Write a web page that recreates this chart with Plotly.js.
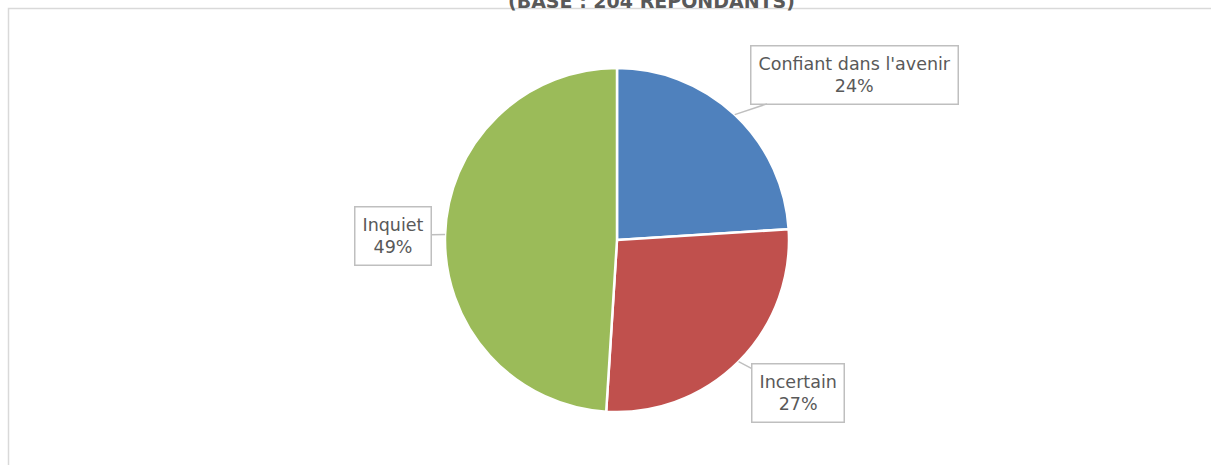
<!DOCTYPE html>
<html>
<head>
<meta charset="utf-8">
<script src="https://cdn.plot.ly/plotly-3.0.1.min.js"></script>
<style>html,body{margin:0;padding:0;background:#fff;overflow:hidden}#chart{width:1211px;height:465px}</style>
</head>
<body>
<div id="chart"></div>
<script>
const categories = ["Confiant dans l'avenir", "Incertain", "Inquiet"];
const values = [24, 27, 49];
const percentLabels = ["24%", "27%", "49%"];
const colors = ["#4F81BD", "#C0504D", "#9BBB59"];
const titleText = "(BASE : 204 REPONDANTS)";

const W = 1211, H = 465;
const cx = 617, cy = 240, r = 172;
// callout box offsets from slice anchor (pixels)
const offsets = [[120, -40], [59, 31], [-52, 1]];

const total = values.reduce((a, b) => a + b, 0);
let cum = 0;
const annotations = [];
values.forEach((v, i) => {
  const mid = (cum + v / 2) / total * 2 * Math.PI;
  cum += v;
  const px = cx + r * Math.sin(mid);
  const py = cy - r * Math.cos(mid);
  annotations.push({
    x: px / W, y: 1 - py / H, xref: 'paper', yref: 'paper',
    text: categories[i] + '<br>' + percentLabels[i],
    showarrow: true, arrowhead: 0, arrowwidth: 1.5, arrowcolor: '#bfbfbf',
    ax: offsets[i][0], ay: offsets[i][1],
    bordercolor: '#bfbfbf', borderwidth: 1.5, borderpad: 7, bgcolor: '#ffffff',
    font: {family: 'DejaVu Sans, sans-serif', size: 17.5, color: '#595959'},
    align: 'center'
  });
});
annotations.push({
  x: 651 / W, y: 1 - 14 / H, xref: 'paper', yref: 'paper',
  xanchor: 'center', yanchor: 'bottom', showarrow: false,
  text: '<b>' + titleText + '</b>',
  font: {family: 'DejaVu Sans, sans-serif', size: 19, color: '#595959'}
});

const data = [{
  type: 'pie',
  labels: categories,
  values: values,
  sort: false,
  direction: 'clockwise',
  rotation: 0,
  textinfo: 'none',
  hoverinfo: 'label+percent',
  marker: {colors: colors, line: {color: '#ffffff', width: 2.5}},
  domain: {x: [(cx - r) / W, (cx + r) / W], y: [1 - (cy + r) / H, 1 - (cy - r) / H]},
  showlegend: false
}];

const layout = {
  width: W, height: H,
  margin: {l: 0, r: 0, t: 0, b: 0},
  paper_bgcolor: '#ffffff',
  plot_bgcolor: '#ffffff',
  showlegend: false,
  annotations: annotations,
  shapes: [{
    type: 'rect', xref: 'paper', yref: 'paper',
    x0: 8.5 / W, x1: 1.05, y0: -0.05, y1: 1 - 8.5 / H,
    line: {color: '#d9d9d9', width: 1.5}, fillcolor: 'rgba(0,0,0,0)', layer: 'below'
  }]
};

Plotly.newPlot('chart', data, layout, {displayModeBar: false, staticPlot: true});
</script>
</body>
</html>
